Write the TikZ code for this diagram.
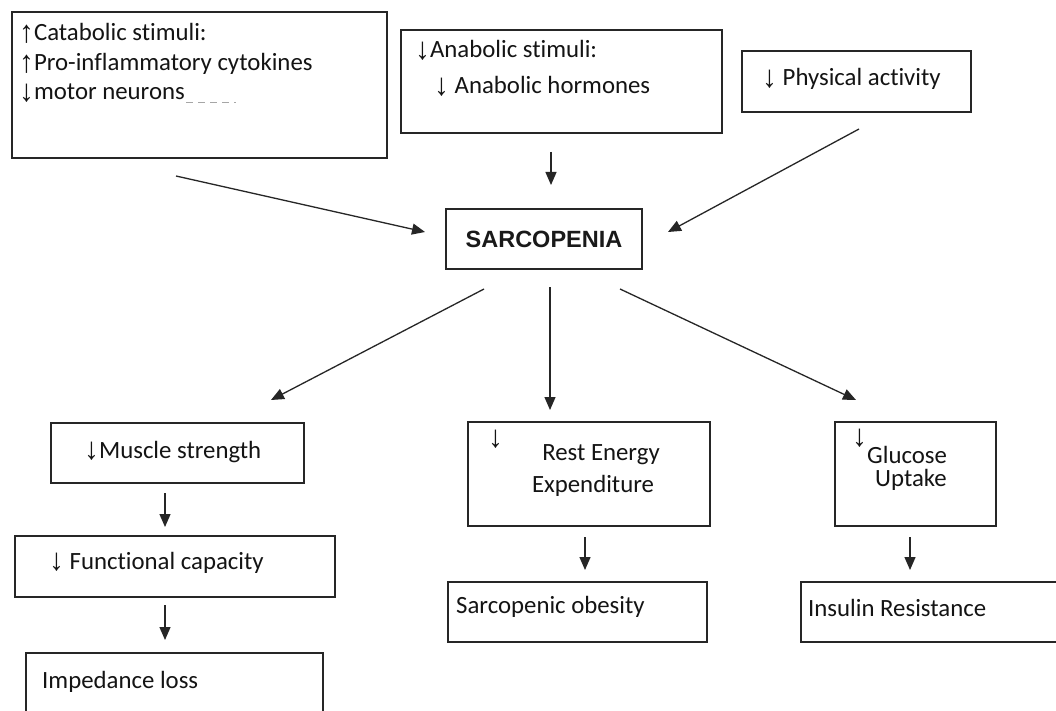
\documentclass[tikz,border=0pt]{standalone}
\usepackage{fontspec}
\usepackage{graphicx}
\setmainfont[RawFeature={-liga;-clig;-dlig}]{Carlito}
\newfontfamily\arrf{Liberation Sans}
\newfontfamily\boldsans{Liberation Sans}
\newcommand{\UpA}{\raisebox{-1.5pt}{\scalebox{1.2}[1.25]{\arrf\bfseries ↑}}}
\newcommand{\DnA}{\raisebox{-1.5pt}{\scalebox{1.2}[1.25]{\arrf\bfseries ↓}}}
\usetikzlibrary{arrows.meta,calc}
\begin{document}
\begin{tikzpicture}[x=1pt,y=1pt,
  box/.style={draw=black!85, line width=1.7pt, inner sep=0pt, outer sep=0pt},
  txt/.style={anchor=base west, inner sep=0pt, text=black!92, font=\fontsize{24.8}{30}\selectfont},
  ctxt/.style={anchor=base, inner sep=0pt, text=black!92, font=\fontsize{24.8}{30}\selectfont},
  conn/.style={line width=1.3pt, black!85, -{Triangle[length=13pt,width=11pt]}}
]
\useasboundingbox[fill=white] (0,0) rectangle (1056,-711);

% boxes
\node[box, minimum width=375pt, minimum height=146pt] (b1) at (199.5,-85) {};
\node[box, minimum width=321pt, minimum height=103pt] (b2) at (561.5,-81.5) {};
\node[box, minimum width=229pt, minimum height=61pt] (b3) at (856.5,-81.5) {};
\node[box, minimum width=196pt, minimum height=60pt, font=\boldsans\bfseries\fontsize{23.5}{26}\selectfont, text=black!90] (sarc) at (544,-239) {SARCOPENIA};
\node[box, minimum width=253pt, minimum height=60pt] (ms) at (177.5,-453) {};
\node[box, minimum width=320pt, minimum height=61pt] (fc) at (175,-566.5) {};
\node[box, minimum width=297pt, minimum height=72pt] (imp) at (174.5,-689) {};
\node[box, minimum width=242pt, minimum height=104pt] (rest) at (589,-474) {};
\node[box, minimum width=161pt, minimum height=104pt] (gl) at (915.5,-474) {};
\node[box, minimum width=259pt, minimum height=60pt] (ob) at (577.5,-612) {};
\node[box, minimum width=261pt, minimum height=60pt] (ins) at (931.5,-612) {};

% texts
\node[txt] (t1a) at (19,-41) {\UpA Catabolic stimuli:};
\node[txt] (t1b) at (19,-71) {\UpA Pro-inflammatory cytokines};
\node[txt] (t1c) at (19,-100) {\DnA motor neurons};
\draw[black!35, line width=0.8pt, dash pattern=on 7pt off 5pt] ([xshift=1pt,yshift=-2pt]t1c.base east) -- ++(50,0);
\node[txt] (t2a) at (415,-58) {\DnA Anabolic stimuli:};
\node[txt] (t2b) at (434,-94) {\DnA\ Anabolic hormones};
\node[txt] (t3) at (762,-86) {\DnA\ Physical activity};
\node[txt] (tms) at (84,-458) {\DnA Muscle strength};
\node[txt] (tfc) at (49,-569) {\DnA\ Functional capacity};
\node[txt] (timp) at (42,-688) {Impedance loss};
\node[txt] (tra) at (488,-446) {\DnA};
\node[ctxt] (trb) at (601,-460) {Rest Energy};
\node[ctxt] (trc) at (593,-492) {Expenditure};
\node[txt] (tga) at (852,-445) {\DnA};
\node[txt] (tgb) at (867,-463) {Glucose};
\node[txt] (tgc) at (875,-486) {Uptake};
\node[txt] (tob) at (456,-613) {Sarcopenic obesity};
\node[txt] (tins) at (808,-616) {Insulin Resistance};

% connectors
\draw[conn] ($(b1.south)+(-23.5,-18)$) -- ($(sarc.west)+(-21,7)$);
\draw[conn] ($(b2.south)+(-10.5,-19)$) -- ($(sarc.north)+(7,24)$);
\draw[conn] ($(b3.south)+(2.5,-17)$) -- ($(sarc.east)+(26,7)$);
\draw[conn] ($(sarc.south)+(-60,-20)$) -- ($(ms.north)+(93.5,23)$);
\draw[conn] ($(sarc.south)+(6,-18)$) -- ($(rest.north)+(-39,12)$);
\draw[conn] ($(sarc.south)+(76,-20)$) -- ($(gl.north)+(-59.5,22)$);
\draw[conn] ($(ms.south)+(-12.5,-10)$) -- ($(fc.north)+(-10,9)$);
\draw[conn] ($(fc.south)+(-10,-8)$) -- ($(imp.north)+(-9.5,13)$);
\draw[conn] ($(rest.south)+(-4,-11)$) -- ($(ob.north)+(7.5,12)$);
\draw[conn] ($(gl.south)+(-5.5,-11)$) -- ($(ins.north)+(-21.5,12)$);
\end{tikzpicture}
\end{document}
